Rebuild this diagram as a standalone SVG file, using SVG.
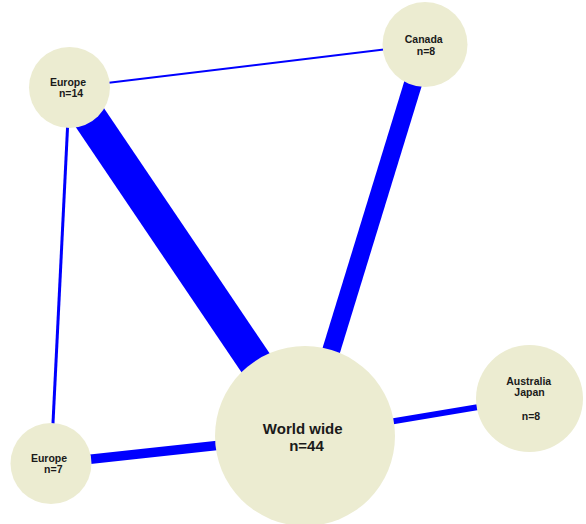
<svg xmlns="http://www.w3.org/2000/svg" width="586" height="524" viewBox="0 0 586 524">
<style>
.edge{stroke:#0000ff;stroke-linecap:butt;fill:none}
.node{fill:#ececd1}
.lbl{font-family:"Liberation Sans",Arial,sans-serif;font-weight:bold;fill:#1a1a1a;text-anchor:middle}
.s{font-size:10.5px}
.b{font-size:15px}
</style>
<rect width="586" height="524" fill="#ffffff"/>
<g id="connectors">
<line class="edge" x1="69.5" y1="87.5" x2="425" y2="44.5" stroke-width="2"/>
<line class="edge" x1="69.5" y1="87.5" x2="305" y2="436" stroke-width="34"/>
<line class="edge" x1="69.5" y1="87.5" x2="51" y2="463.5" stroke-width="3"/>
<line class="edge" x1="425" y1="44.5" x2="305" y2="436" stroke-width="18"/>
<line class="edge" x1="305" y1="436" x2="529.5" y2="398.5" stroke-width="6"/>
<line class="edge" x1="305" y1="436" x2="51" y2="463.5" stroke-width="9.5"/>
</g>
<g id="europe14">
<circle class="node" cx="69.5" cy="87.5" r="40.5"/>
<text class="lbl s" x="68" y="86">Europe</text>
<text class="lbl s" x="71" y="97">n=14</text>
</g>
<g id="canada">
<circle class="node" cx="425" cy="44.5" r="42.5"/>
<text class="lbl s" x="423.7" y="43">Canada</text>
<text class="lbl s" x="426" y="55">n=8</text>
</g>
<g id="worldwide">
<circle class="node" cx="305" cy="436" r="90"/>
<text class="lbl b" x="302.7" y="434">World wide</text>
<text class="lbl b" x="306.5" y="451">n=44</text>
</g>
<g id="australiajapan">
<circle class="node" cx="529.5" cy="398.5" r="53.5"/>
<text class="lbl s" x="528.7" y="385">Australia</text>
<text class="lbl s" x="529.5" y="395.5">Japan</text>
<text class="lbl s" x="531" y="420">n=8</text>
</g>
<g id="europe7">
<circle class="node" cx="51" cy="463.5" r="40.5"/>
<text class="lbl s" x="49" y="462">Europe</text>
<text class="lbl s" x="53.3" y="473">n=7</text>
</g>
</svg>
